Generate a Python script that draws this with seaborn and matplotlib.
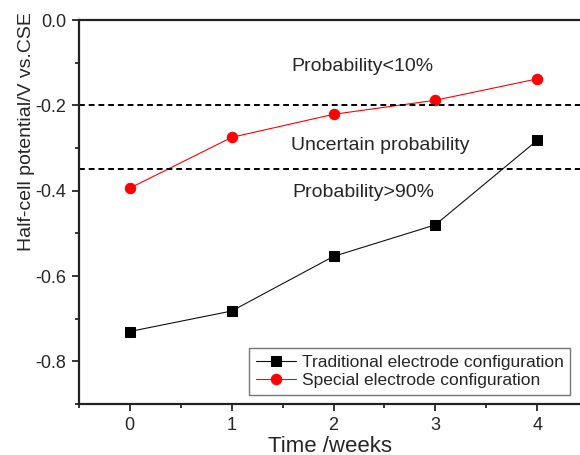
import numpy as np
import matplotlib
matplotlib.use("Agg")
import matplotlib.pyplot as plt
import seaborn as sns
from matplotlib.ticker import MultipleLocator, FormatStrFormatter

weeks = [0, 1, 2, 3, 4]
traditional = [-0.730, -0.682, -0.554, -0.480, -0.282]
special = [-0.394, -0.275, -0.221, -0.188, -0.138]
thresholds = [-0.20, -0.35]
zone_labels = ["Probability<10%", "Uncertain probability", "Probability>90%"]
zone_x = [2.28, 2.46, 2.29]
zone_y = [-0.108, -0.293, -0.404]

sns.set_style("ticks")
plt.rcParams['font.family'] = ['Liberation Sans', 'DejaVu Sans']
plt.rcParams['axes.unicode_minus'] = False

fig = plt.figure(figsize=(5.8, 4.55), dpi=100)
ax = fig.add_axes([0.136, 0.112, 0.878, 0.844])

sns.lineplot(x=weeks, y=traditional, ax=ax, color='#111111', linewidth=0.8,
             marker='s', markersize=6.5, markeredgecolor='black',
             markerfacecolor='black',
             label='Traditional electrode configuration')
sns.lineplot(x=weeks, y=special, ax=ax, color='red', linewidth=0.8,
             marker='o', markersize=7.5, markeredgecolor='red',
             label='Special electrode configuration')

for t in thresholds:
    ax.axhline(t, color='black', linestyle=(0, (3, 2)), linewidth=1.4)

for lab, xx, yy in zip(zone_labels, zone_x, zone_y):
    ax.text(xx, yy, lab, ha='center', va='center', fontsize=14)

ax.set_xlim(-0.5, 4.5)
ax.set_ylim(-0.9, 0.0)
ax.xaxis.set_major_locator(MultipleLocator(1))
ax.xaxis.set_minor_locator(MultipleLocator(0.5))
ax.yaxis.set_major_locator(MultipleLocator(0.2))
ax.yaxis.set_minor_locator(MultipleLocator(0.1))
ax.yaxis.set_major_formatter(FormatStrFormatter('%.1f'))

ax.tick_params(which='major', direction='out', length=5, width=1.3, labelsize=13, pad=4)
ax.tick_params(which='minor', direction='out', length=3, width=1.3)

for s in ['left', 'bottom', 'top', 'right']:
    ax.spines[s].set_linewidth(1.6)
    ax.spines[s].set_color('#222222')

ax.set_xlabel('Time /weeks', fontsize=16)
ax.xaxis.set_label_coords(0.494, -0.082)
ax.xaxis.label.set_va('top')
ax.set_ylabel('Half-cell potential/V vs.CSE', fontsize=14)
ax.yaxis.set_label_coords(-0.086, 0.71)

leg = ax.legend(loc='lower left', bbox_to_anchor=(0.335, 0.023), borderaxespad=0,
                fontsize=12.5, frameon=True, fancybox=False, handlelength=2.3,
                handletextpad=0.3, borderpad=0.4, labelspacing=0.2)
leg.get_frame().set_edgecolor('#555555')
leg.get_frame().set_linewidth(1.0)

fig.savefig('out.png', dpi=100)
